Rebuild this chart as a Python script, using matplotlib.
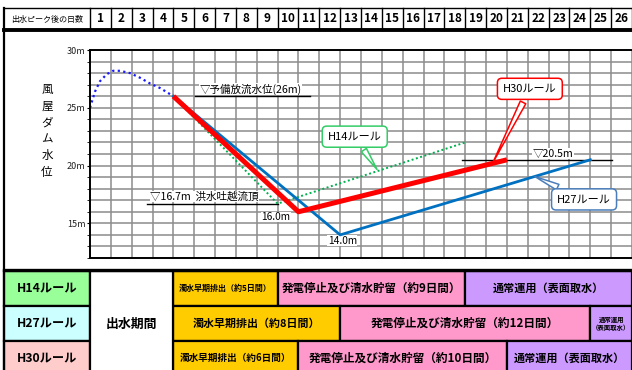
import matplotlib
matplotlib.use('Agg')
import matplotlib.pyplot as plt
from matplotlib.patches import Rectangle

plt.rcParams['font.family'] = ['Noto Sans CJK JP', 'DejaVu Sans']

W, H, DPI = 632, 370, 100

# ---------------- data ----------------
day_labels = [str(i) for i in range(1, 27)]
header_title = '出水ピーク後の日数'

peak_days = [0, 0.24, 0.48, 0.80, 1.11, 1.44, 1.92, 2.4, 2.88, 3.37, 4.0]
peak_level = [25.0, 26.4, 27.3, 27.9, 28.2, 28.2, 28.0, 27.6, 27.1, 26.7, 26.0]

h14_days = [4, 9, 18]
h14_level = [26.0, 16.7, 22.0]
h27_days = [4, 12, 24]
h27_level = [26.0, 14.0, 20.5]
h30_days = [4, 10, 20]
h30_level = [26.0, 16.0, 20.5]

y_major = [15, 20, 25, 30]
y_major_labels = ['15m', '20m', '25m', '30m']

rule_names = ['H14ルール', 'H27ルール', 'H30ルール']
rule_colors = ['#99ff99', '#ccffff', '#ffcccc']
flood_label = '出水期間'
phase_start = 4
phase_durations = [[5, 9, 8], [8, 12, 2], [6, 10, 6]]
phase_labels = [
    ['濁水早期排出（約5日間）', '発電停止及び清水貯留（約9日間）', '通常運用（表面取水）'],
    ['濁水早期排出（約8日間）', '発電停止及び清水貯留（約12日間）', '通常運用\n（表面取水）'],
    ['濁水早期排出（約6日間）', '発電停止及び清水貯留（約10日間）', '通常運用（表面取水）'],
]
phase_fontsizes = [[5.8, 8.3, 8.0], [7.9, 8.4, 4.6], [6.9, 8.4, 8.0]]
phase_colors = ['#ffcc00', '#ff99cc', '#cc99ff']

# ---------------- figure ----------------
fig = plt.figure(figsize=(W / DPI, H / DPI), dpi=DPI)

PX_PER_DAY = 542 / 26.0
X0 = -86 / PX_PER_DAY   # left frame edge (px 4)

bg = fig.add_axes([4 / W, 0, 628 / W, 1])
bg.set_xlim(X0, 26)
bg.set_ylim(H, 0)
bg.axis('off')

LW = 1.6
# header row
bg.plot([X0, 26], [8, 8], color='black', lw=1.0, clip_on=False)
bg.plot([X0, 26], [30, 30], color='black', lw=2.8, clip_on=False)
for i in range(0, 27):
    bg.plot([i, i], [8, 30], color='black', lw=1.0, clip_on=False)
for i, lab in enumerate(day_labels):
    bg.text(i + 0.5, 19, lab, ha='center', va='center', fontsize=8.5,
            fontweight='bold')
bg.text(X0 / 2, 19, header_title, ha='center', va='center', fontsize=5.8)

# left frame
bg.plot([X0, X0], [8, H], color='black', lw=1.6, clip_on=False)
# chart bottom / table top
bg.plot([X0, 26], [269.5, 269.5], color='black', lw=2.4, clip_on=False)

# table
row_top = [271, 306, 341]
row_h = 34.5
for r in range(3):
    y = row_top[r]
    bg.add_patch(Rectangle((X0, y), -X0, row_h, fc=rule_colors[r], ec='black',
                           lw=LW, clip_on=False))
    bg.text(X0 / 2, y + row_h / 2, rule_names[r], ha='center', va='center',
            fontsize=8.8, fontweight='bold')
    x = phase_start
    for k in range(3):
        d = phase_durations[r][k]
        bg.add_patch(Rectangle((x, y), d, row_h, fc=phase_colors[k], ec='black',
                               lw=LW, clip_on=False))
        bg.text(x + d / 2, y + row_h / 2, phase_labels[r][k], ha='center',
                va='center', fontsize=phase_fontsizes[r][k], fontweight='bold',
                linespacing=1.1)
        x += d
bg.add_patch(Rectangle((0, row_top[0]), phase_start, 3 * row_h + 10, fc='white',
                       ec='black', lw=LW, clip_on=False))
bg.text(phase_start / 2, 324, flood_label, ha='center', va='center',
        fontsize=9.3, fontweight='bold')

# ---------------- chart ----------------
ax = fig.add_axes([90 / W, 1 - 258 / H, 542 / W, 208 / H])
ax.set_xlim(0, 26)
ax.set_ylim(12, 30)
ax.set_xticks(range(0, 27))
ax.tick_params(axis='x', length=0, labelbottom=False)
ax.set_yticks(y_major)
ax.set_yticklabels(y_major_labels, fontsize=6.5, color='#222222')
ax.set_yticks(range(12, 31), minor=True)
ax.tick_params(axis='y', which='both', length=2, pad=1, color='black')
ax.grid(True, which='both', color='#8c8c8c', lw=1.1)
ax.set_axisbelow(True)
for s in ['left', 'top', 'bottom']:
    ax.spines[s].set_linewidth(1.4)
ax.spines['right'].set_visible(False)

ax.plot(peak_days, peak_level, color='#1a1aff', lw=1.6, ls=(0, (1, 1.5)))
ax.plot(h14_days, h14_level, color='#00b050', lw=1.4, ls=(0, (1, 1.3)), zorder=3)
ax.plot(h27_days, h27_level, color='#0070c0', lw=2.0, zorder=4)
ax.plot(h30_days, h30_level, color='#ff0000', lw=3.6, zorder=5,
        solid_capstyle='butt')

# reference lines
ax.plot([5.04, 10.55], [26, 26], color='black', lw=1.0, zorder=2)
ax.text(5.25, 26.6, '▽予備放流水位(26m)', fontsize=7.6, va='center', ha='left',
        bbox=dict(fc='white', ec='none', pad=0.4), zorder=2)
ax.plot([2.73, 9.0], [16.7, 16.7], color='black', lw=1.0, zorder=2)
ax.text(2.9, 17.3, '▽16.7m  洪水吐越流頂', fontsize=7.6, va='center', ha='left',
        bbox=dict(fc='white', ec='none', pad=0.4), zorder=2)
ax.plot([17.84, 25.04], [20.5, 20.5], color='black', lw=1.0, zorder=2)
ax.text(22.2, 21.05, '▽20.5m', fontsize=7.6, va='center', ha='center',
        bbox=dict(fc='white', ec='none', pad=0.4), zorder=2)
ax.text(8.92, 15.55, '16.0m', fontsize=7.3, va='center', ha='center',
        bbox=dict(fc='white', ec='none', pad=0.3), zorder=2)
ax.text(12.1, 13.5, '14.0m', fontsize=7.3, va='center', ha='center',
        bbox=dict(fc='white', ec='none', pad=0.3), zorder=2)

# callouts
def callout(text, xy, xytext, color):
    ax.annotate(text, xy=xy, xytext=xytext, ha='center', va='center',
                fontsize=8, zorder=7,
                bbox=dict(boxstyle='round,pad=0.5,rounding_size=0.4', fc='white',
                          ec=color, lw=1.1),
                arrowprops=dict(arrowstyle='wedge,tail_width=0.55,shrink_factor=0.5',
                                fc='white', ec=color, lw=1.1, shrinkB=0))

callout('H14ルール', (13.77, 19.66), (12.7, 22.5), '#33cc66')
callout('H30ルール', (19.33, 20.26), (21.1, 26.64), '#ff0000')
callout('H27ルール', (21.34, 19.05), (23.7, 17.07), '#4a7ebb')

fig.text(47 / W, 1 - 131 / H, '風\n屋\nダ\nム\n水\n位', ha='center', va='center',
         fontsize=8.3, linespacing=1.35)

fig.savefig('out.png', dpi=DPI)
